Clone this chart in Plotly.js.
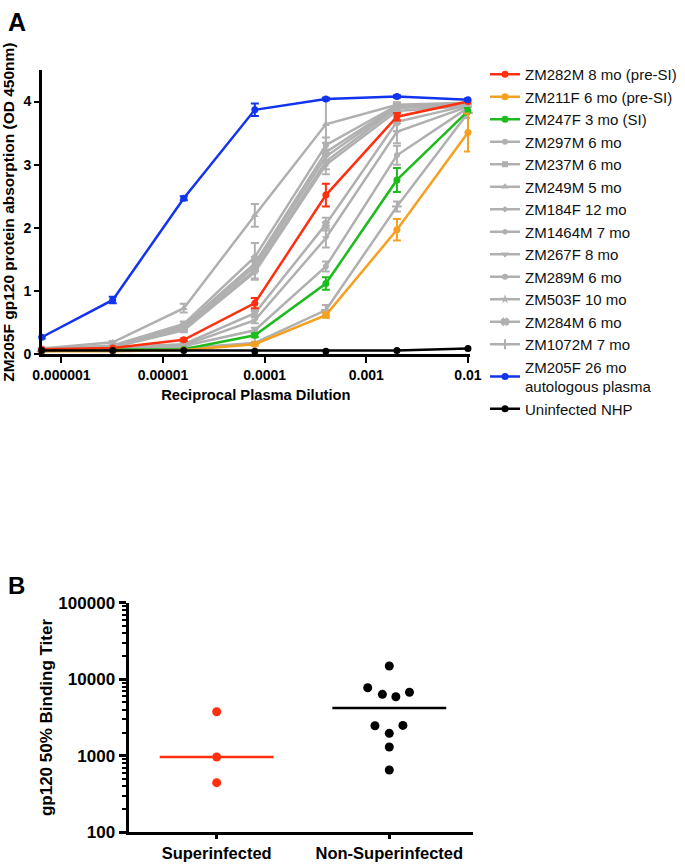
<!DOCTYPE html>
<html>
<head>
<meta charset="utf-8">
<script src="https://cdn.plot.ly/plotly-3.0.1.min.js"></script>
<style>html,body{margin:0;padding:0;background:#fff;}#chart{width:685px;height:864px;}</style>
</head>
<body>
<div id="chart"></div>
<script>
// ---------- Panel A data ----------
const dilutions = [6.4e-7, 3.2e-6, 1.6e-5, 8e-5, 4e-4, 2e-3, 1e-2];
const xTickVals = [1e-6, 1e-5, 1e-4, 1e-3, 1e-2];
const xTickText = ['0.000001', '0.00001', '0.0001', '0.001', '0.01'];

const seriesNames = [
  'ZM282M 8 mo (pre-SI)', 'ZM211F 6 mo (pre-SI)', 'ZM247F 3 mo (SI)',
  'ZM297M 6 mo', 'ZM237M 6 mo', 'ZM249M 5 mo', 'ZM184F 12 mo', 'ZM1464M 7 mo',
  'ZM267F 8 mo', 'ZM289M 6 mo', 'ZM503F 10 mo', 'ZM284M 6 mo', 'ZM1072M 7 mo',
  'ZM205F 26 mo<br>autologous plasma', 'Uninfected NHP'
];

const zm282M  = [0.08, 0.10, 0.23, 0.81, 2.52, 3.76, 4.00];
const zm282Me = [0, 0, 0.02, 0.08, 0.18, 0.06, 0];
const zm211F  = [0.05, 0.05, 0.07, 0.16, 0.62, 1.97, 3.51];
const zm211Fe = [0, 0, 0, 0.02, 0.04, 0.17, 0.30];
const zm247F  = [0.07, 0.07, 0.08, 0.30, 1.12, 2.76, 3.85];
const zm247Fe = [0, 0, 0, 0.03, 0.10, 0.19, 0.05];
const zm297M  = [0.08, 0.14, 0.48, 1.54, 3.31, 3.94, 3.97];
const zm297Me = [0, 0, 0.04, 0.22, 0.12, 0.04, 0.03];
const zm237M  = [0.08, 0.13, 0.45, 1.44, 3.20, 3.93, 3.96];
const zm237Me = [0, 0, 0.03, 0.10, 0.15, 0.04, 0.03];
const zm249M  = [0.09, 0.19, 0.73, 2.20, 3.64, 3.95, 3.98];
const zm249Me = [0, 0.02, 0.07, 0.18, 0.40, 0.04, 0.03];
const zm184F  = [0.07, 0.12, 0.42, 1.39, 3.13, 3.92, 3.95];
const zm184Fe = [0, 0, 0.03, 0.08, 0.10, 0.04, 0.03];
const zm1464M = [0.07, 0.11, 0.38, 1.30, 3.00, 3.85, 3.93];
const zm1464Me= [0, 0, 0.03, 0.10, 0.15, 0.05, 0.03];
const zm267F  = [0.06, 0.10, 0.14, 0.54, 1.84, 3.52, 3.92];
const zm267Fe = [0, 0, 0.02, 0.05, 0.15, 0.18, 0.04];
const zm289M  = [0.06, 0.09, 0.13, 0.38, 1.39, 3.15, 3.90];
const zm289Me = [0, 0, 0.02, 0.04, 0.08, 0.15, 0.04];
const zm503F  = [0.07, 0.12, 0.40, 1.33, 3.05, 3.90, 3.94];
const zm503Fe = [0, 0, 0.03, 0.15, 0.12, 0.05, 0.03];
const zm284M  = [0.07, 0.11, 0.16, 0.65, 2.06, 3.68, 3.94];
const zm284Me = [0, 0, 0.02, 0.05, 0.10, 0.15, 0.04];
const zm1072M = [0.05, 0.08, 0.10, 0.18, 0.70, 2.34, 3.82];
const zm1072Me= [0, 0, 0.01, 0.02, 0.08, 0.08, 0.08];
const zm205F  = [0.27, 0.86, 2.47, 3.87, 4.04, 4.08, 4.03];
const zm205Fe = [0.02, 0.05, 0.03, 0.10, 0.02, 0.02, 0.02];
const uninfected = [0.06, 0.06, 0.06, 0.05, 0.05, 0.06, 0.09];

// ---------- Panel B data ----------
const groupNames = ['Superinfected', 'Non-Superinfected'];
const siTiters = [3765, 964, 445];
const nonSiTiters = [14890, 7750, 6350, 5910, 6750, 2470, 2490, 1965, 1300, 652];
const nonSiJitter = [0, -0.125, -0.040, 0.038, 0.117, -0.083, 0.079, 0, 0, 0];
const siJitter = [0, 0, 0];
const bTickVals = [100, 1000, 10000, 100000];
const bTickText = ['100', '1000', '10000', '100000'];

// ---------- styles ----------
const RED = '#ff3010', ORANGE = '#f5a020', GREEN = '#1dbb1d', BLUE = '#1234ee', GRAY = '#b0b0b0', BLACK = '#000000';
const FONT = 'Liberation Sans, Arial, Helvetica, sans-serif';

function lineTrace(name, y, err, color, symbol, size, rank) {
  const t = {
    type: 'scatter', mode: 'lines+markers', name: name,
    x: dilutions, y: y, xaxis: 'x', yaxis: 'y',
    line: {color: color, width: 2.5},
    marker: {color: color, symbol: symbol, size: size, line: {width: 0, color: color}},
    cliponaxis: false, legendrank: rank
  };
  if (err) t.error_y = {type: 'data', array: err, visible: true, color: color, thickness: 2, width: 4};
  return t;
}

const traces = [];
// gray first (drawn underneath)
traces.push(lineTrace(seriesNames[3], zm297M, zm297Me, GRAY, 'circle', 6, 4));
traces.push(lineTrace(seriesNames[4], zm237M, zm237Me, GRAY, 'square', 6, 5));
traces.push(lineTrace(seriesNames[5], zm249M, zm249Me, GRAY, 'triangle-up', 7, 6));
traces.push(lineTrace(seriesNames[6], zm184F, zm184Fe, GRAY, 'diamond', 5, 7));
traces.push(lineTrace(seriesNames[7], zm1464M, zm1464Me, GRAY, 'hexagon', 6, 8));
traces.push(lineTrace(seriesNames[8], zm267F, zm267Fe, GRAY, 'triangle-down', 7, 9));
traces.push(lineTrace(seriesNames[9], zm289M, zm289Me, GRAY, 'circle', 6, 10));
traces.push(lineTrace(seriesNames[10], zm503F, zm503Fe, GRAY, 'star', 7, 11));
traces.push(lineTrace(seriesNames[11], zm284M, zm284Me, GRAY, 'x', 6, 12));
traces.push(lineTrace(seriesNames[12], zm1072M, zm1072Me, GRAY, 'cross-thin-open', 7, 13));
traces.push(lineTrace(seriesNames[2], zm247F, zm247Fe, GREEN, 'circle', 7, 3));
traces.push(lineTrace(seriesNames[1], zm211F, zm211Fe, ORANGE, 'circle', 7, 2));
traces.push(lineTrace(seriesNames[0], zm282M, zm282Me, RED, 'circle', 7, 1));
traces.push(lineTrace(seriesNames[14], uninfected, null, BLACK, 'circle', 7, 15));
traces.push(lineTrace(seriesNames[13], zm205F, zm205Fe, BLUE, 'circle', 7, 14));
traces[9].marker.line = {width: 2, color: GRAY};
traces[8].marker.line = {width: 1.5, color: GRAY};

// Panel B
function median(arr) {
  const s = arr.slice().sort((a, b) => a - b);
  const n = s.length;
  return n % 2 ? s[(n - 1) / 2] : (s[n / 2 - 1] + s[n / 2]) / 2;
}
const halfW = 0.33;
traces.push({type: 'scatter', mode: 'markers', x: siJitter.map(d => 0 + d), y: siTiters,
  xaxis: 'x2', yaxis: 'y2', showlegend: false, cliponaxis: false,
  marker: {color: RED, size: 9}});
traces.push({type: 'scatter', mode: 'markers', x: nonSiJitter.map(d => 1 + d), y: nonSiTiters,
  xaxis: 'x2', yaxis: 'y2', showlegend: false, cliponaxis: false,
  marker: {color: BLACK, size: 9}});
const siMed = median(siTiters), nonSiMed = median(nonSiTiters);
traces.push({type: 'scatter', mode: 'lines', x: [0 - halfW, 0 + halfW], y: [siMed, siMed],
  xaxis: 'x2', yaxis: 'y2', showlegend: false, line: {color: RED, width: 2.5}});
traces.push({type: 'scatter', mode: 'lines', x: [1 - halfW, 1 + halfW], y: [nonSiMed, nonSiMed],
  xaxis: 'x2', yaxis: 'y2', showlegend: false, line: {color: BLACK, width: 2.5}});

const W = 685, H = 864;
const layout = {
  width: W, height: H,
  margin: {l: 0, r: 0, t: 0, b: 0, autoexpand: false},
  paper_bgcolor: '#fff', plot_bgcolor: 'rgba(0,0,0,0)',
  font: {family: FONT, color: '#000'},
  showlegend: true,
  legend: {
    x: 485 / W, y: 1 - 58 / H,
    xanchor: 'left', yanchor: 'top', font: {family: FONT, size: 15, color: '#111'},
    bgcolor: 'rgba(0,0,0,0)', borderwidth: 0, tracegroupgap: 0, traceorder: 'normal'
  },
  xaxis: {
    domain: [41.7 / W, 470 / W], anchor: 'y', type: 'log',
    range: [Math.log10(6.4e-7), -1.98],
    tickvals: xTickVals, ticktext: xTickText,
    ticks: 'outside', ticklen: 6, tickwidth: 2, tickcolor: '#000',
    showline: true, linecolor: '#000', linewidth: 3, showgrid: false, zeroline: false,
    tickfont: {family: FONT, size: 14, weight: 'bold'},
    title: {text: '<b>Reciprocal Plasma Dilution</b>', font: {family: FONT, size: 14.7}, standoff: 8}
  },
  yaxis: {
    domain: [1 - 354.3 / H, 1 - 70 / H], anchor: 'x',
    range: [0, 4.5], tickvals: [0, 1, 2, 3, 4],
    ticks: 'outside', ticklen: 5, tickwidth: 2, tickcolor: '#000',
    showline: true, linecolor: '#000', linewidth: 2.5, showgrid: false, zeroline: false,
    tickfont: {family: FONT, size: 14, weight: 'bold'},
    title: {text: '<b>ZM205F gp120 protein absorption (OD 450nm)</b>', font: {family: FONT, size: 15.5}, standoff: 9}
  },
  xaxis2: {
    domain: [129 / W, 473 / W], anchor: 'y2',
    range: [-0.508, 1.485], tickvals: [0, 1], ticktext: groupNames, tickangle: 0,
    ticks: 'outside', ticklen: 4, tickwidth: 3, tickcolor: '#000',
    showline: true, linecolor: '#000', linewidth: 3, showgrid: false, zeroline: false,
    tickfont: {family: FONT, size: 16.5, weight: 'bold'}
  },
  yaxis2: {
    domain: [1 - 832.3 / H, 1 - 602.7 / H], anchor: 'x2', type: 'log',
    range: [2, 5], tickvals: bTickVals, ticktext: bTickText,
    ticks: 'outside', ticklen: 7, tickwidth: 3, tickcolor: '#000',
    minor: {ticks: 'outside', ticklen: 4, tickwidth: 2, tickcolor: '#000', dtick: 'D1', showgrid: false},
    showline: true, linecolor: '#000', linewidth: 3.5, showgrid: false, zeroline: false,
    tickfont: {family: FONT, size: 17, weight: 'bold'},
    title: {text: '<b>gp120 50% Binding Titer</b>', font: {family: FONT, size: 17}, standoff: 2}
  },
  annotations: [
    {text: '<b>A</b>', xref: 'paper', yref: 'paper', x: 6 / W, y: 1 - 6 / H, xanchor: 'left', yanchor: 'top',
     showarrow: false, font: {family: FONT, size: 25, color: '#000'}},
    {text: '<b>B</b>', xref: 'paper', yref: 'paper', x: 6 / W, y: 1 - 570 / H, xanchor: 'left', yanchor: 'top',
     showarrow: false, font: {family: FONT, size: 24, color: '#000'}}
  ]
};

Plotly.newPlot('chart', traces, layout, {staticPlot: true, displayModeBar: false});
</script>
</body>
</html>
